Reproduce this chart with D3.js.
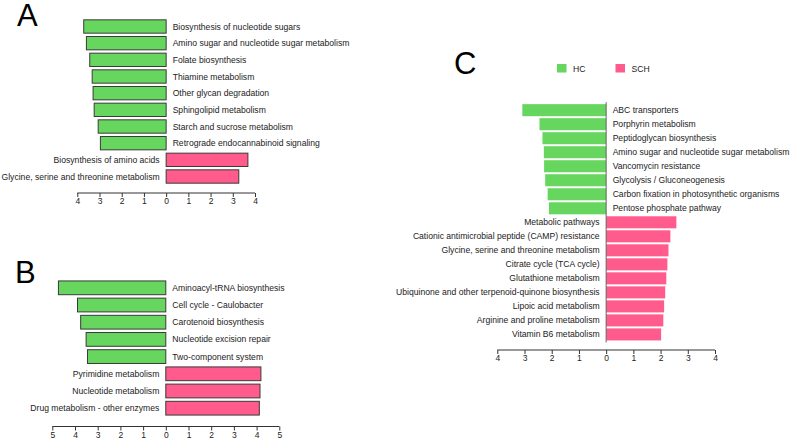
<!DOCTYPE html>
<html lang="en">
<head>
<meta charset="UTF-8">
<title>KEGG pathways HC vs SCH</title>
<script src="https://d3js.org/d3.v7.min.js"></script>
<style>
    body { margin: 0; background: #fff; }
    svg { display: block; font-family: "Liberation Sans", Arial, sans-serif; }
    .axis path, .axis line { stroke: #333; }
    .axis text { font-size: 8.5px; fill: #222; }
    .lbl { font-size: 8.6px; fill: #222; }
</style>
</head>
<body>
<svg width="793" height="439"></svg>
<script>
    // panel A (negative = HC, positive = SCH)
    const namesA = ["Biosynthesis of nucleotide sugars", "Amino sugar and nucleotide sugar metabolism",
        "Folate biosynthesis", "Thiamine metabolism", "Other glycan degradation", "Sphingolipid metabolism",
        "Starch and sucrose metabolism", "Retrograde endocannabinoid signaling",
        "Biosynthesis of amino acids", "Glycine, serine and threonine metabolism"];
    const valuesA = [-3.71, -3.59, -3.44, -3.33, -3.29, -3.24, -3.06, -2.96, 3.68, 3.27];
    const ticksA = [-4, -3, -2, -1, 0, 1, 2, 3, 4];

    // panel B
    const namesB = ["Aminoacyl-tRNA biosynthesis", "Cell cycle - Caulobacter", "Carotenoid biosynthesis",
        "Nucleotide excision repair", "Two-component system", "Pyrimidine metabolism",
        "Nucleotide metabolism", "Drug metabolism - other enzymes"];
    const valuesB = [-4.73, -3.89, -3.75, -3.51, -3.45, 4.19, 4.15, 4.12];
    const ticksB = [-5, -4, -3, -2, -1, 0, 1, 2, 3, 4, 5];

    // panel C
    const namesC = ["ABC transporters", "Porphyrin metabolism", "Peptidoglycan biosynthesis",
        "Amino sugar and nucleotide sugar metabolism", "Vancomycin resistance", "Glycolysis / Gluconeogenesis",
        "Carbon fixation in photosynthetic organisms", "Pentose phosphate pathway",
        "Metabolic pathways", "Cationic antimicrobial peptide (CAMP) resistance",
        "Glycine, serine and threonine metabolism", "Citrate cycle (TCA cycle)", "Glutathione metabolism",
        "Ubiquinone and other terpenoid-quinone biosynthesis", "Lipoic acid metabolism",
        "Arginine and proline metabolism", "Vitamin B6 metabolism"];
    const valuesC = [-3.08, -2.45, -2.34, -2.29, -2.28, -2.24, -2.15, -2.10,
        2.58, 2.36, 2.29, 2.25, 2.21, 2.17, 2.13, 2.10, 2.02];
    const ticksC = [-4, -3, -2, -1, 0, 1, 2, 3, 4];

    const groups = ["HC", "SCH"];
    const colors = { HC: "#66d65e", SCH: "#ff5b8c" };

    const svg = d3.select("svg");

    function panel(cfg) {
        const g = svg.append("g");
        const x = d3.scaleLinear().domain(cfg.domain).range(cfg.xRange);
        const y = d3.scaleBand().domain(cfg.names).range(cfg.yRange).padding(cfg.pad);
        const data = cfg.names.map((n, i) => ({ name: n, v: cfg.values[i] }));
        const x0 = x(0);

        g.selectAll("rect.bar")
            .data(data)
            .enter()
            .append("rect")
            .attr("class", "bar")
            .attr("x", d => Math.min(x(d.v), x0))
            .attr("y", d => y(d.name))
            .attr("width", d => Math.abs(x(d.v) - x0))
            .attr("height", y.bandwidth())
            .attr("fill", d => d.v < 0 ? colors.HC : colors.SCH)
            .attr("stroke", cfg.outline ? "#3a3a3a" : "none")
            .attr("stroke-width", 1);

        if (!cfg.outline) {
            g.append("line")
                .attr("x1", x0).attr("x2", x0)
                .attr("y1", cfg.yRange[0]).attr("y2", cfg.yRange[1])
                .attr("stroke", "#666");
        }

        g.selectAll("text.lbl")
            .data(data)
            .enter()
            .append("text")
            .attr("class", "lbl")
            .attr("x", d => d.v < 0 ? x0 + 6.5 : x0 - 6.5)
            .attr("y", d => y(d.name) + y.bandwidth() / 2)
            .attr("dy", "0.35em")
            .attr("text-anchor", d => d.v < 0 ? "start" : "end")
            .text(d => d.name);

        g.append("g")
            .attr("class", "axis")
            .attr("transform", `translate(0,${cfg.axisY})`)
            .call(d3.axisBottom(x).tickValues(cfg.ticks).tickSize(4).tickPadding(1).tickSizeOuter(0)
                .tickFormat(d => Math.abs(d)));
        g.select(".axis .domain").remove();
        g.select(".axis").insert("line", ":first-child")
            .attr("x1", x(cfg.domain[0])).attr("x2", x(cfg.domain[1]))
            .attr("stroke", "#333");

        svg.append("text")
            .attr("x", cfg.letterX)
            .attr("y", cfg.letterY)
            .attr("font-size", 31)
            .attr("fill", "#000")
            .text(cfg.letter);
    }

    panel({ names: namesA, values: valuesA, ticks: ticksA, domain: [-4, 4], xRange: [77.3, 255],
        yRange: [16.5, 186.5], pad: 0.2, axisY: 193, outline: true, letter: "A", letterX: 17, letterY: 25.5 });
    panel({ names: namesB, values: valuesB, ticks: ticksB, domain: [-5, 5], xRange: [52.3, 279.3],
        yRange: [277.5, 418.5], pad: 0.2, axisY: 426.5, outline: true, letter: "B", letterX: 15, letterY: 283 });
    panel({ names: namesC, values: valuesC, ticks: ticksC, domain: [-4, 4], xRange: [497.3, 715],
        yRange: [102.2, 342.4], pad: 0.14, axisY: 350, outline: false, letter: "C", letterX: 454, letterY: 73.5 });

    // legend
    const legend = svg.append("g").attr("transform", "translate(557,64)");
    const lx = [0, 58.5];
    groups.forEach((k, i) => {
        legend.append("rect").attr("x", lx[i]).attr("y", 0).attr("width", 9.5).attr("height", 8.5)
            .attr("fill", colors[k]);
        legend.append("text").attr("class", "lbl").attr("x", lx[i] + 16).attr("y", 4.5)
            .attr("dy", "0.35em").text(k);
    });
</script>
</body>
</html>
